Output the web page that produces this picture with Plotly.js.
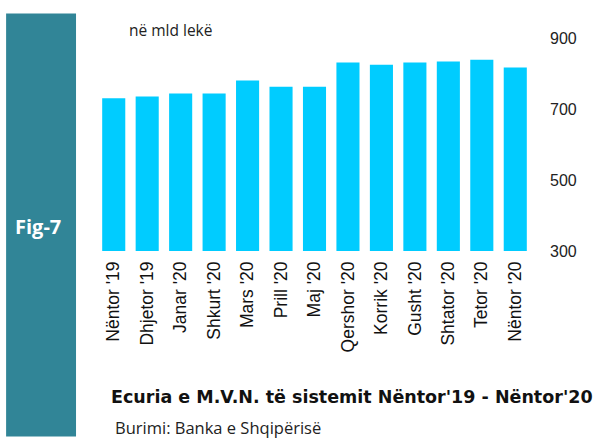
<!DOCTYPE html>
<html>
<head>
<meta charset="utf-8">
<script src="https://cdn.plot.ly/plotly-3.0.1.min.js"></script>
<style>html,body{margin:0;padding:0;background:#fff;}#chart{width:597px;height:438px;}</style>
</head>
<body>
<div id="chart"></div>
<script>
var categories = ["Nëntor '19","Dhjetor '19","Janar '20","Shkurt '20","Mars '20","Prill '20","Maj '20","Qershor '20","Korrik '20","Gusht '20","Shtator '20","Tetor '20","Nëntor '20"];
var values = [730, 735, 744, 744, 780, 763, 763, 831, 825, 831, 834, 839, 817];
var yTicks = [300, 500, 700, 900];

// pixel -> paper helpers (plot area: x 97..532.5, y 37.5..251)
var L = 97, R = 532.5, T = 37.5, B = 251;
function px(x){ return (x - L) / (R - L); }
function py(y){ return (B - y) / (B - T); }

var trace = {
  type: 'bar',
  x: categories,
  y: values,
  marker: {color: '#00CCFF'},
  hoverinfo: 'x+y'
};

var layout = {
  width: 597, height: 438,
  margin: {l: L, r: 597 - R, t: T, b: 438 - B, pad: 0},
  paper_bgcolor: '#fff', plot_bgcolor: '#fff',
  bargap: 0.31,
  showlegend: false,
  font: {family: 'Liberation Sans, Arial, sans-serif', color: '#222'},
  xaxis: {
    type: 'category',
    tickangle: -90,
    tickfont: {size: 17.5, color: '#111'},
    showgrid: false, zeroline: false, showline: false, ticks: '',
    ticklabelstandoff: 6
  },
  yaxis: {
    side: 'right',
    range: [300, 900],
    tickvals: yTicks,
    ticktext: yTicks.map(String),
    tickfont: {size: 16, color: '#222'},
    showgrid: false, zeroline: false, showline: false, ticks: '',
    ticklabelstandoff: 17
  },
  shapes: [{
    type: 'rect', xref: 'paper', yref: 'paper',
    x0: px(6), x1: px(76), y0: py(437), y1: py(13),
    fillcolor: '#318597', line: {width: 0}, layer: 'below'
  }],
  annotations: [
    {text: 'Fig-7', xref: 'paper', yref: 'paper', x: px(38), y: py(226), xanchor: 'center', yanchor: 'middle',
     showarrow: false, font: {size: 20, color: '#fff', family: 'Open Sans, Liberation Sans, sans-serif', weight: 'bold'}},
    {text: 'në mld lekë', xref: 'paper', yref: 'paper', x: px(127), y: py(29), xanchor: 'left', yanchor: 'middle',
     showarrow: false, font: {size: 15.5, color: '#222', family: 'Open Sans, Liberation Sans, sans-serif'}},
    {text: "<b>Ecuria e M.V.N. të sistemit Nëntor'19 - Nëntor'20</b>", xref: 'paper', yref: 'paper', x: px(109), y: py(397), xanchor: 'left', yanchor: 'middle',
     showarrow: false, font: {size: 17.5, color: '#111', family: 'DejaVu Sans, sans-serif'}},
    {text: 'Burimi: Banka e Shqipërisë', xref: 'paper', yref: 'paper', x: px(113), y: py(428), xanchor: 'left', yanchor: 'middle',
     showarrow: false, font: {size: 16.5, color: '#222', family: 'Open Sans, Liberation Sans, sans-serif'}}
  ]
};

Plotly.newPlot('chart', [trace], layout, {displayModeBar: false, staticPlot: true});
</script>
</body>
</html>
